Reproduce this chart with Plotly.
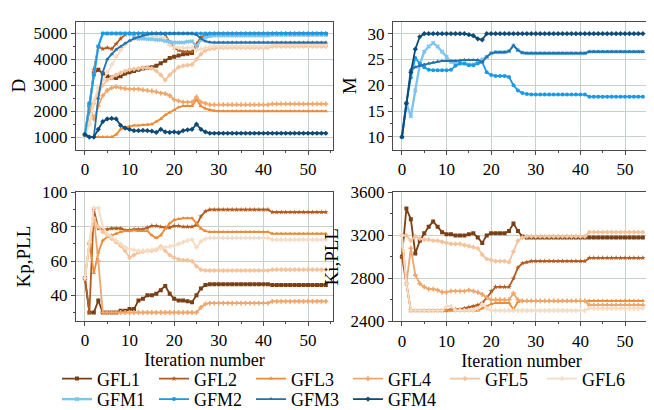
import plotly.graph_objects as go

iterations = list(range(55))
names = ["GFL1", "GFL2", "GFL3", "GFL4", "GFL5", "GFL6", "GFM1", "GFM2", "GFM3", "GFM4"]
colors = {"GFL1": "#7a3f14", "GFL2": "#b35a1e", "GFL3": "#ee8a35", "GFL4": "#f0a66a",
          "GFL5": "#f5c39a", "GFL6": "#f5dcc4", "GFM1": "#7dc5ef", "GFM2": "#1a9ae6",
          "GFM3": "#2472ad", "GFM4": "#0c4a78"}
symbols = {"GFL1": "square", "GFL2": "star", "GFL3": "triangle-up", "GFL4": "cross",
           "GFL5": "diamond", "GFL6": "cross", "GFM1": "x", "GFM2": "circle",
           "GFM3": "triangle-up", "GFM4": "diamond"}

# ---------------- D ----------------
D_GFL1 = [1100, 2200, 3450, 3600, 3450, 3350, 3300, 3280, 3350, 3450,
          3500, 3550, 3600, 3650, 3680, 3700, 3750, 3850, 3950, 4050,
          4100, 4150, 4200, 4220, 4250, 4550, 4800, 4900, 4950, 4960,
          4960, 4960, 4960, 4960, 4960, 4960, 4960, 4960, 4960, 4960,
          4960, 4960, 4970, 4970, 4970, 4970, 4970, 4970, 4970, 4970,
          4970, 4970, 4970, 4970, 4970]
D_GFL2 = [1100, 2000, 3600, 4500, 4400, 4450, 4400, 4600, 4800, 4950,
          5000, 5000, 5000, 5000, 5000, 5000, 5000, 5000, 4950, 4650,
          4450, 4350, 4300, 4300, 4300, 4600, 4850, 4950, 4980, 4990,
          4990, 4990, 4990, 4990, 4990, 4990, 4990, 4990, 4990, 4990,
          4990, 4990, 5000, 5000, 5000, 5000, 5000, 5000, 5000, 5000,
          5000, 5000, 5000, 5000, 5000]
D_GFL3 = [1100, 1000, 1000, 1000, 1000, 1000, 1000, 1100, 1300, 1380,
          1420, 1450, 1450, 1470, 1480, 1500, 1600, 1700, 1850, 1950,
          2050, 2150, 2200, 2200, 2200, 2450, 2200, 2100, 2050, 2020,
          2000, 2000, 2000, 2000, 2000, 2000, 2000, 2000, 2000, 2000,
          2000, 2000, 2000, 2000, 2000, 2000, 2000, 2000, 2000, 2000,
          2000, 2000, 2000, 2000, 2000]
D_GFL4 = [1100, 2300, 1700, 2200, 2600, 2800, 2900, 2950, 2900, 2870,
          2850, 2850, 2850, 2820, 2800, 2780, 2750, 2700, 2680, 2600,
          2450, 2400, 2350, 2350, 2350, 2550, 2350, 2300, 2250, 2250,
          2250, 2250, 2250, 2250, 2250, 2250, 2250, 2250, 2250, 2250,
          2250, 2250, 2280, 2280, 2280, 2280, 2280, 2280, 2280, 2280,
          2280, 2280, 2280, 2280, 2280]
D_GFL5 = [1100, 1500, 2300, 2700, 3000, 3200, 3300, 3400, 3480, 3550,
          3600, 3620, 3650, 3670, 3680, 3650, 3550, 3400, 3200, 3400,
          3550, 3700, 3750, 3780, 3800, 4000, 4200, 4350, 4400, 4420,
          4450, 4450, 4450, 4450, 4450, 4450, 4450, 4450, 4450, 4450,
          4450, 4450, 4500, 4500, 4500, 4500, 4500, 4500, 4500, 4500,
          4500, 4500, 4500, 4500, 4500]
D_GFL6 = [1100, 1500, 2400, 2900, 3200, 3500, 3800, 4100, 4350, 4550,
          4700, 4780, 4800, 4820, 4850, 4850, 4850, 4850, 4800, 4550,
          4450, 4450, 4450, 4450, 4450, 4350, 4400, 4450, 4480, 4500,
          4500, 4500, 4500, 4500, 4500, 4500, 4500, 4500, 4500, 4500,
          4500, 4500, 4550, 4550, 4550, 4550, 4550, 4550, 4550, 4550,
          4550, 4550, 4550, 4550, 4550]
D_GFM1 = [1100, 2300, 3400, 4500, 5000, 5000, 5000, 5000, 5000, 5000,
          5000, 4900, 4800, 4800, 4780, 4780, 4750, 4750, 4700, 4680,
          4650, 4650, 4650, 4680, 4700, 4500, 4750, 4850, 4900, 4920,
          4920, 4920, 4920, 4920, 4920, 4920, 4920, 4920, 4920, 4920,
          4920, 4920, 4950, 4950, 4950, 4950, 4950, 4950, 4950, 4950,
          4950, 4950, 4950, 4950, 4950]
D_GFM2 = [1100, 2300, 3400, 4500, 5000, 5000, 5000, 5000, 5000, 5000,
          5000, 5000, 5000, 5000, 5000, 5000, 5000, 5000, 5000, 5000,
          5000, 5000, 5000, 5000, 5000, 5000, 5000, 5000, 5000, 5000,
          5000, 5000, 5000, 5000, 5000, 5000, 5000, 5000, 5000, 5000,
          5000, 5000, 5000, 5000, 5000, 5000, 5000, 5000, 5000, 5000,
          5000, 5000, 5000, 5000, 5000]
D_GFM3 = [1100, 1000, 1000, 2500, 3500, 4000, 4200, 4380, 4500, 4620,
          4720, 4800, 4860, 4920, 4960, 4990, 5000, 5000, 5000, 5000,
          5000, 5000, 5000, 5000, 5000, 4950, 4800, 4700, 4660, 4650,
          4650, 4650, 4650, 4650, 4650, 4650, 4650, 4650, 4650, 4650,
          4650, 4650, 4650, 4650, 4650, 4650, 4650, 4650, 4650, 4650,
          4650, 4650, 4650, 4650, 4650]
D_GFM4 = [1100, 1000, 1000, 1300, 1600, 1700, 1720, 1700, 1450, 1350,
          1300, 1250, 1250, 1260, 1250, 1230, 1180, 1300, 1200, 1180,
          1200, 1170, 1250, 1280, 1300, 1500, 1300, 1200, 1150, 1150,
          1150, 1150, 1150, 1150, 1150, 1150, 1150, 1150, 1150, 1150,
          1150, 1150, 1150, 1150, 1150, 1150, 1150, 1150, 1150, 1150,
          1150, 1150, 1150, 1150, 1150]

# ---------------- M ----------------
M_GFM1 = [10, 16.5, 14, 19, 24, 26.5, 27.5, 28.2, 27.5, 26.5,
          25.5, 24.5, 24.2, 24.2, 24.2, 24, 24, 24.5, 25, 25.5,
          26.2, 26.4, 26.4, 26.4, 26.6, 27.7, 26.8, 26.3, 26.2, 26.2,
          26.2, 26.2, 26.2, 26.2, 26.2, 26.2, 26.2, 26.2, 26.2, 26.2,
          26.2, 26.2, 26.5, 26.5, 26.5, 26.5, 26.5, 26.5, 26.5, 26.5,
          26.5, 26.5, 26.5, 26.5, 26.5]
M_GFM2 = [10, 16.5, 21.5, 25.3, 24.2, 23.5, 23, 22.9, 22.9, 22.9,
          22.9, 23, 23.8, 24.2, 24.2, 23.9, 23.9, 24.2, 24.5, 22.5,
          22, 21.8, 21.8, 21.8, 21.6, 20, 19, 18.5, 18.3, 18.2,
          18.2, 18.2, 18.2, 18.2, 18.2, 18.2, 18.2, 18.2, 18.2, 18.2,
          18.2, 18.2, 17.8, 17.8, 17.8, 17.8, 17.8, 17.8, 17.8, 17.8,
          17.8, 17.8, 17.8, 17.8, 17.8]
M_GFM3 = [10, 16.5, 23, 23.5, 23.8, 24, 24.2, 24.4, 24.6, 24.7,
          24.7, 24.7, 24.7, 24.8, 24.9, 24.9, 24.9, 24.9, 24.5, 25.5,
          26.2, 26.4, 26.4, 26.4, 26.6, 27.7, 26.8, 26.3, 26.2, 26.2,
          26.2, 26.2, 26.2, 26.2, 26.2, 26.2, 26.2, 26.2, 26.2, 26.2,
          26.2, 26.2, 26.5, 26.5, 26.5, 26.5, 26.5, 26.5, 26.5, 26.5,
          26.5, 26.5, 26.5, 26.5, 26.5]
M_GFM4 = [10, 16.5, 22.5, 27, 29.4, 30, 30, 30, 30, 30,
          30, 30, 30, 30, 30, 29.8, 29.6, 29, 28.8, 30,
          30, 30, 30, 30, 30, 30, 30, 30, 30, 30,
          30, 30, 30, 30, 30, 30, 30, 30, 30, 30,
          30, 30, 30, 30, 30, 30, 30, 30, 30, 30,
          30, 30, 30, 30, 30]

# ---------------- Kp,PLL ----------------
Kp_GFL1 = [50, 30, 30, 37, 30, 30, 30, 30, 31, 31,
           32, 32, 37, 38, 40, 40, 41, 43, 45.5, 41,
           38, 37, 37, 36.5, 36, 40, 44, 46, 46.5, 46.5,
           46.5, 46.5, 46.5, 46.5, 46.5, 46.5, 46.5, 46.5, 46.5, 46.5,
           46.5, 46.5, 46, 46, 46, 46, 46, 46, 46, 46,
           46, 46, 46, 46, 46]
Kp_GFL2 = [50, 30, 90, 79, 78.5, 78.5, 79, 79, 79, 78,
           78, 78.5, 78.5, 78.5, 79.5, 80.5, 80.5, 80, 79.5, 79.5,
           80.5, 80.5, 80, 80, 80, 81, 86, 89, 90, 90,
           90, 90, 90, 90, 90, 90, 90, 90, 90, 90,
           90, 90, 88.5, 88.5, 88.5, 88.5, 88.5, 88.5, 88.5, 88.5,
           88.5, 88.5, 88.5, 88.5, 88.5]
Kp_GFL3 = [50, 70, 53, 65, 72, 74, 75, 76, 77, 77.5,
           77.5, 78, 77.5, 77.5, 77.5, 75, 73.4, 75, 79, 82,
           84, 84.5, 85, 85, 85, 82, 79, 77.5, 77, 77,
           77, 77, 77, 77, 77, 77, 77, 77, 77, 77,
           77, 77, 76, 76, 76, 76, 76, 76, 76, 76,
           76, 76, 76, 76, 76]
Kp_GFL4 = [50, 70, 85, 60, 30, 30, 30, 30, 30, 30,
           30, 30, 30, 30, 30, 30, 30, 30, 30, 30,
           30, 30, 30, 30, 30, 30, 33, 35, 35.5, 35.5,
           35.5, 35.5, 35.5, 35.5, 35.5, 35.5, 35.5, 35.5, 35.5, 35.5,
           35.5, 35.5, 36.5, 36.5, 36.5, 36.5, 36.5, 36.5, 36.5, 36.5,
           36.5, 36.5, 36.5, 36.5, 36.5]
Kp_GFL5 = [50, 71, 85, 80, 77, 75, 73, 71, 69, 66,
           62, 63.5, 65, 65.5, 66, 66, 66.5, 68.5, 66, 63.5,
           62, 61, 60.5, 60.5, 60, 57, 55, 54.5, 54.5, 54.5,
           54.5, 54.5, 54.5, 54.5, 54.5, 54.5, 54.5, 54.5, 54.5, 54.5,
           54.5, 54.5, 55, 55, 55, 55, 55, 55, 55, 55,
           55, 55, 55, 55, 55]
Kp_GFL6 = [50, 71, 91, 91, 80, 76, 74, 72, 70, 68,
           67, 66.5, 66, 66, 66, 66.5, 67, 67.5, 68, 68.5,
           69, 70, 71, 72, 72.5, 68, 71.5, 73, 73.5, 73.5,
           73.5, 73.5, 73.5, 73.5, 73.5, 73.5, 73.5, 73.5, 73.5, 73.5,
           73.5, 73.5, 72.5, 72.5, 72.5, 72.5, 72.5, 72.5, 72.5, 72.5,
           72.5, 72.5, 72.5, 72.5, 72.5]

# ---------------- Ki,PLL ----------------
Ki_GFL1 = [3000, 3450, 3350, 3030, 3150, 3220, 3280, 3330, 3280, 3230,
           3210, 3210, 3200, 3200, 3200, 3210, 3220, 3180, 3130, 3200,
           3220, 3220, 3220, 3220, 3240, 3310, 3240, 3190, 3180, 3180,
           3180, 3180, 3180, 3180, 3180, 3180, 3180, 3180, 3180, 3180,
           3180, 3180, 3180, 3180, 3180, 3180, 3180, 3180, 3180, 3180,
           3180, 3180, 3180, 3180, 3180]
Ki_GFL2 = [3000, 2750, 2500, 2500, 2500, 2500, 2500, 2500, 2500, 2500,
           2500, 2510, 2510, 2510, 2520, 2530, 2540, 2550, 2570, 2620,
           2680, 2720, 2720, 2720, 2720, 2800, 2900, 2940, 2950, 2960,
           2960, 2960, 2960, 2960, 2960, 2960, 2960, 2960, 2960, 2960,
           2960, 2960, 2990, 2990, 2990, 2990, 2990, 2990, 2990, 2990,
           2990, 2990, 2990, 2990, 2990]
Ki_GFL3 = [3200, 2750, 2500, 2500, 2500, 2500, 2500, 2500, 2500, 2500,
           2500, 2500, 2500, 2500, 2500, 2500, 2500, 2500, 2520, 2540,
           2560, 2570, 2570, 2570, 2570, 2510, 2580, 2590, 2590, 2590,
           2590, 2590, 2590, 2590, 2590, 2590, 2590, 2590, 2590, 2590,
           2590, 2590, 2590, 2590, 2590, 2590, 2590, 2590, 2590, 2590,
           2590, 2590, 2590, 2590, 2590]
Ki_GFL4 = [3200, 2750, 3080, 2830, 2750, 2720, 2700, 2700, 2690, 2670,
           2670, 2680, 2680, 2680, 2680, 2690, 2680, 2670, 2650, 2620,
           2600, 2600, 2600, 2600, 2600, 2660, 2600, 2590, 2590, 2590,
           2590, 2590, 2590, 2590, 2590, 2590, 2590, 2590, 2590, 2590,
           2590, 2590, 2550, 2550, 2550, 2550, 2550, 2550, 2550, 2550,
           2550, 2550, 2550, 2550, 2550]
Ki_GFL5 = [3200, 3200, 3150, 3190, 3170, 3160, 3160, 3150, 3150, 3140,
           3130, 3120, 3120, 3120, 3110, 3100, 3090, 3080, 3020, 2980,
           2970, 2960, 2960, 2960, 2950, 3050, 3150, 3180, 3190, 3190,
           3190, 3190, 3190, 3190, 3190, 3190, 3190, 3190, 3190, 3190,
           3190, 3190, 3230, 3230, 3230, 3230, 3230, 3230, 3230, 3230,
           3230, 3230, 3230, 3230, 3230]
Ki_GFL6 = [3200, 2750, 2500, 2500, 2500, 2500, 2500, 2500, 2500, 2500,
           2540, 2540, 2500, 2500, 2500, 2500, 2500, 2520, 2560, 2520,
           2500, 2500, 2500, 2500, 2500, 2500, 2500, 2500, 2500, 2500,
           2500, 2500, 2500, 2500, 2500, 2500, 2500, 2500, 2500, 2500,
           2500, 2500, 2520, 2520, 2520, 2520, 2520, 2520, 2520, 2520,
           2520, 2520, 2520, 2520, 2520]

D_series = {"GFL1": D_GFL1, "GFL2": D_GFL2, "GFL3": D_GFL3, "GFL4": D_GFL4,
            "GFL5": D_GFL5, "GFL6": D_GFL6, "GFM1": D_GFM1, "GFM2": D_GFM2,
            "GFM3": D_GFM3, "GFM4": D_GFM4}
M_series = {"GFM1": M_GFM1, "GFM2": M_GFM2, "GFM3": M_GFM3, "GFM4": M_GFM4}
Kp_series = {"GFL1": Kp_GFL1, "GFL2": Kp_GFL2, "GFL3": Kp_GFL3, "GFL4": Kp_GFL4,
             "GFL5": Kp_GFL5, "GFL6": Kp_GFL6}
Ki_series = {"GFL1": Ki_GFL1, "GFL2": Ki_GFL2, "GFL3": Ki_GFL3, "GFL4": Ki_GFL4,
             "GFL5": Ki_GFL5, "GFL6": Ki_GFL6}

FONT = "Liberation Serif"
TICKFONT = dict(family=FONT, size=17, color="black")
fig = go.Figure()


def add(series, xa, ya, legend):
    for n, vals in series.items():
        fig.add_trace(go.Scatter(
            x=iterations, y=vals, name=n, mode="lines+markers",
            line=dict(color=colors[n], width=2.4 if n == "GFM1" else 1.8),
            marker=dict(symbol=symbols[n], size=4, color=colors[n]),
            xaxis=xa, yaxis=ya, showlegend=legend,
            legend="legend" if n.startswith("GFL") else "legend2"))


add(D_series, "x", "y", True)
add(M_series, "x2", "y2", False)
add(Kp_series, "x3", "y3", False)
add(Ki_series, "x4", "y4", False)

W, H = 654, 410
px = lambda a, b: [a / W, b / W]
py = lambda top, bot: [1 - bot / H, 1 - top / H]

minor_style = dict(ticks="outside", ticklen=2, tickcolor="#4a4a4a", showgrid=False)
title_font = dict(family=FONT, size=19, color="black")
xt = dict(text="Iteration number", font=dict(family=FONT, size=18, color="black"), standoff=0)
legend_font = dict(family=FONT, size=18, color="black")

fig.update_layout(
    width=W, height=H, margin=dict(l=0, r=0, t=0, b=0),
    paper_bgcolor="white", plot_bgcolor="white",
    font=dict(family=FONT, color="black", size=17),
    xaxis=dict(domain=px(68, 325), anchor="y"),
    yaxis=dict(domain=py(5, 139), anchor="x", range=[520, 5450], dtick=1000, tick0=0,
               minor=dict(minor_style, dtick=500),
               title=dict(text="D", font=title_font, standoff=4)),
    xaxis2=dict(domain=px(385, 642), anchor="y2"),
    yaxis2=dict(domain=py(5, 139), anchor="x2", range=[7.55, 32.3], dtick=5, tick0=0,
                minor=dict(minor_style, dtick=2.5),
                title=dict(text="M", font=title_font, standoff=5)),
    xaxis3=dict(domain=px(68, 325), anchor="y3", title=xt),
    yaxis3=dict(domain=py(184, 318.5), anchor="x3", range=[25.2, 100], dtick=20, tick0=0,
                minor=dict(minor_style, dtick=10),
                title=dict(text="Kp,PLL", font=title_font, standoff=6)),
    xaxis4=dict(domain=px(385, 642), anchor="y4", title=xt),
    yaxis4=dict(domain=py(184, 319), anchor="x4", range=[2400, 3600], dtick=400, tick0=0,
                minor=dict(minor_style, dtick=200),
                title=dict(text="Ki,PLL", font=title_font, standoff=6)),
    legend=dict(orientation="h", x=49 / W, xanchor="left", y=1 - 379.5 / H, yanchor="middle",
                font=legend_font, itemwidth=30, entrywidth=52, bgcolor="rgba(0,0,0,0)"),
    legend2=dict(orientation="h", x=49 / W, xanchor="left", y=1 - 401 / H, yanchor="middle",
                 font=legend_font, itemwidth=30, entrywidth=52, bgcolor="rgba(0,0,0,0)"),
)

axis_common = dict(showline=True, linecolor="#4a4a4a", linewidth=1, mirror=True,
                   ticks="outside", ticklen=4, tickcolor="#4a4a4a",
                   showgrid=True, gridcolor="#c9d2c9", gridwidth=1.3, zeroline=False,
                   tickfont=TICKFONT)
fig.update_xaxes(**axis_common, range=[-2, 55.6], tickvals=[0, 10, 20, 30, 40, 50],
                 minor=dict(minor_style, dtick=5, tick0=0))
fig.update_yaxes(**axis_common)

fig.write_html("out.html")
